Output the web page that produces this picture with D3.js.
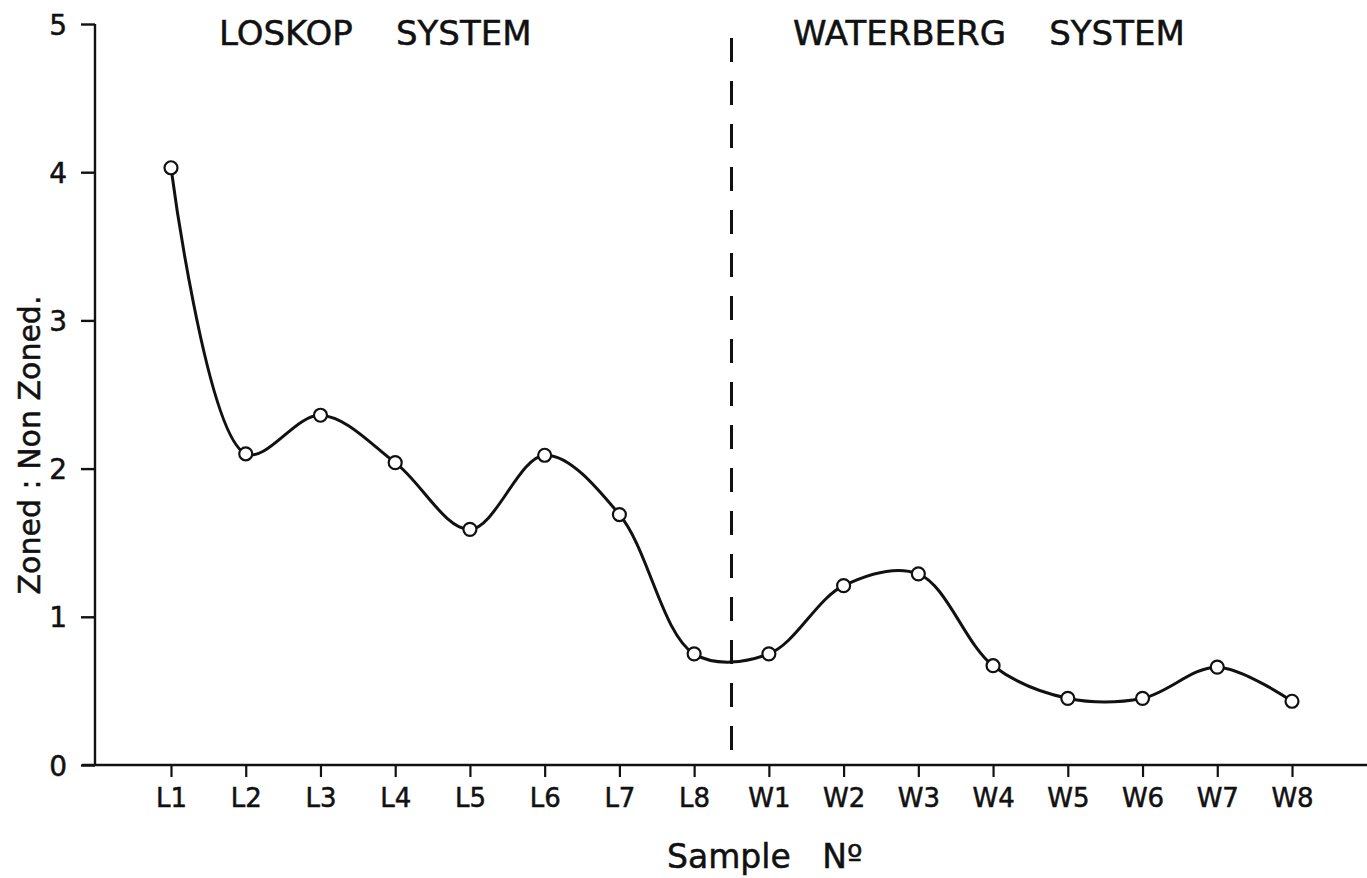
<html>
<head>
    <script src="https://d3js.org/d3.v7.min.js"></script>
    <style>
        body { margin: 0; background: #fff; }
        text { font-family: "DejaVu Sans", sans-serif; fill: #111; stroke: #111; stroke-width: 0.5px; }
    </style>
</head>
<body>
    <svg id="chart" width="1367" height="878"></svg>
    <script>
        // samples along the x axis
        var samples = ["L1", "L2", "L3", "L4", "L5", "L6", "L7", "L8",
                       "W1", "W2", "W3", "W4", "W5", "W6", "W7", "W8"];
        // zoned : non zoned ratio
        var ratio = [4.03, 2.10, 2.36, 2.04, 1.59, 2.09, 1.69, 0.75,
                     0.75, 1.21, 1.29, 0.67, 0.45, 0.45, 0.66, 0.43];
        var yTicks = [0, 1, 2, 3, 4, 5];
        var groups = ["LOSKOP    SYSTEM", "WATERBERG    SYSTEM"];

        var svg = d3.select("#chart");
        var ink = "#111";

        var x = d3.scalePoint()
            .domain(samples)
            .range([171, 1292]);

        var y = d3.scaleLinear()
            .domain([0, 5])
            .range([765, 24]);

        // y axis
        var yAxis = svg.append("g")
            .attr("transform", "translate(95,0)")
            .call(d3.axisLeft(y).tickValues(yTicks).tickSize(14).tickPadding(14).tickFormat(d3.format("d")));
        yAxis.select(".domain").remove();
        yAxis.selectAll(".tick line").attr("stroke", ink).attr("stroke-width", 2.4);
        yAxis.selectAll(".tick text").attr("font-size", 28).attr("dy", "0.36em");
        svg.append("line")
            .attr("x1", 95).attr("x2", 95)
            .attr("y1", y(5)).attr("y2", y(0))
            .attr("stroke", ink).attr("stroke-width", 2.4);

        // x axis
        var xAxis = svg.append("g")
            .attr("transform", "translate(0," + y(0) + ")")
            .call(d3.axisBottom(x).tickSize(12).tickPadding(12));
        xAxis.select(".domain").remove();
        xAxis.selectAll(".tick line").attr("stroke", ink).attr("stroke-width", 2.2);
        xAxis.selectAll(".tick text").attr("font-size", 26);
        svg.append("line")
            .attr("x1", 82).attr("x2", 1367)
            .attr("y1", y(0)).attr("y2", y(0))
            .attr("stroke", ink).attr("stroke-width", 2.4);

        // divider between the two systems
        var divX = (x("L8") + x("W1")) / 2;
        svg.append("line")
            .attr("x1", divX).attr("x2", divX)
            .attr("y1", 38).attr("y2", y(0))
            .attr("stroke", ink).attr("stroke-width", 3)
            .attr("stroke-dasharray", "24,19");

        // curve
        var line = d3.line()
            .x((d, i) => x(samples[i]))
            .y((d) => y(d))
            .curve(d3.curveCatmullRom.alpha(0.5));

        svg.append("path")
            .datum(ratio)
            .attr("d", line)
            .attr("fill", "none")
            .attr("stroke", ink)
            .attr("stroke-width", 3);

        svg.selectAll("circle.pt")
            .data(ratio)
            .enter()
            .append("circle")
            .attr("class", "pt")
            .attr("cx", (d, i) => x(samples[i]))
            .attr("cy", (d) => y(d))
            .attr("r", 6.5)
            .attr("fill", "#fff")
            .attr("stroke", ink)
            .attr("stroke-width", 2.2);

        // labels
        svg.selectAll("text.grp")
            .data(groups)
            .enter()
            .append("text")
            .attr("class", "grp")
            .attr("x", (d, i) => i == 0 ? 219 : 793)
            .attr("y", 45)
            .attr("font-size", 34)
            .attr("xml:space", "preserve")
            .text((d) => d);

        svg.append("text")
            .attr("x", 667)
            .attr("y", 868)
            .attr("font-size", 33)
            .attr("xml:space", "preserve")
            .text("Sample   Nº");

        svg.append("text")
            .attr("transform", "translate(40,445) rotate(-90)")
            .attr("text-anchor", "middle")
            .attr("font-size", 30)
            .text("Zoned : Non Zoned.");
    </script>
</body>
</html>
